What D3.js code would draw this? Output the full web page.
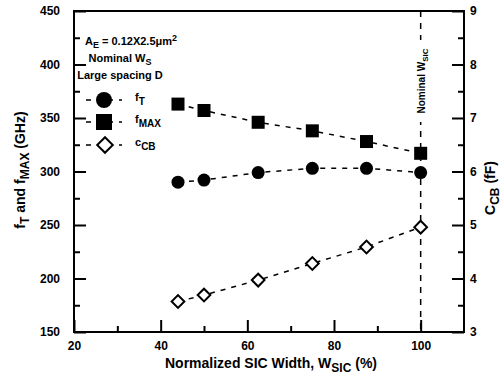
<!DOCTYPE html>
<html>
<head>
<meta charset="utf-8">
<script src="https://cdn.jsdelivr.net/npm/d3@7"></script>
<style>
body { margin: 0; background: #fff; }
text { font-family: "Liberation Sans", Arial, sans-serif; font-weight: bold; fill: #000; }
</style>
</head>
<body>
<svg id="chart" width="504" height="378"></svg>
<script>
// data
const widths = [44, 50, 62.5, 75, 87.5, 100];
const fT = [290, 292, 299, 303, 303, 299];
const fMAX = [363, 357, 346, 338, 328, 317];
const cCB = [3.57, 3.69, 3.97, 4.28, 4.59, 4.96];
const xTicks = [20, 40, 60, 80, 100];
const yTicks = [150, 200, 250, 300, 350, 400, 450];
const y2Ticks = [3, 4, 5, 6, 7, 8, 9];
const nominal = 100;

const margin = {left: 74, right: 40, top: 11, bottom: 46};
const W = 504, H = 378;
const svg = d3.select('#chart');

const x = d3.scaleLinear().domain([20, 110]).range([margin.left, W - margin.right]);
const y = d3.scaleLinear().domain([150, 450]).range([H - margin.bottom, margin.top]);
const y2 = d3.scaleLinear().domain([3, 9]).range([H - margin.bottom, margin.top]);

const x0 = x.range()[0], x1 = x.range()[1];
const yb = y.range()[0], yt = y.range()[1];

// axes: major ticks inward + minor
function styleAxis(g) {
	g.select('.domain').remove();
	g.selectAll('.tick line').attr('stroke', '#000').attr('stroke-width', 2);
	g.selectAll('.tick text').style('font-size', '12px');
}

// bottom
svg.append('g')
	.attr('transform', `translate(0,${yb})`)
	.call(d3.axisBottom(x).tickValues(d3.range(30, 110, 20)).tickSize(-6).tickFormat(''))
	.call(styleAxis);
svg.append('g')
	.attr('transform', `translate(0,${yb})`)
	.call(d3.axisBottom(x).tickValues(xTicks).tickSize(-12).tickPadding(9).tickFormat(d3.format('d')))
	.call(styleAxis);

// left
svg.append('g')
	.attr('transform', `translate(${x0},0)`)
	.call(d3.axisLeft(y).tickValues(d3.range(175, 450, 50)).tickSize(-6).tickFormat(''))
	.call(styleAxis);
svg.append('g')
	.attr('transform', `translate(${x0},0)`)
	.call(d3.axisLeft(y).tickValues(yTicks).tickSize(-12).tickPadding(14).tickFormat(d3.format('d')))
	.call(styleAxis);

// right
svg.append('g')
	.attr('transform', `translate(${x1},0)`)
	.call(d3.axisRight(y2).tickValues(d3.range(3.5, 9, 1)).tickSize(-6).tickFormat(''))
	.call(styleAxis);
svg.append('g')
	.attr('transform', `translate(${x1},0)`)
	.call(d3.axisRight(y2).tickValues(y2Ticks).tickSize(-12).tickPadding(6).tickFormat(d3.format('d')))
	.call(styleAxis);

// frame
svg.append('rect')
	.attr('x', x0).attr('y', yt)
	.attr('width', x1 - x0).attr('height', yb - yt)
	.attr('fill', 'none').attr('stroke', '#000').attr('stroke-width', 2);

// nominal line
svg.append('line')
	.attr('x1', x(nominal)).attr('x2', x(nominal))
	.attr('y1', yt).attr('y2', yb)
	.attr('stroke', '#000').attr('stroke-width', 1.5)
	.attr('stroke-dasharray', '6,6');
svg.append('rect')
	.attr('x', x(nominal) - 6).attr('y', 40)
	.attr('width', 12).attr('height', 82)
	.attr('fill', '#fff');
const nom = svg.append('text')
	.attr('transform', `translate(${x(nominal) + 4},81) rotate(-90)`)
	.attr('text-anchor', 'middle')
	.style('font-size', '10px');
nom.append('tspan').text('Nominal W');
nom.append('tspan').attr('dy', 3).style('font-size', '8px').text('SIC');

// series
const line = (vals, sc) => d3.line()
	.x((d, i) => x(widths[i]))
	.y(d => sc(d))(vals);

function dashed(path) {
	return svg.append('path').attr('d', path)
		.attr('fill', 'none').attr('stroke', '#000')
		.attr('stroke-width', 1.5).attr('stroke-dasharray', '5,6');
}
dashed(line(fMAX, y));
dashed(line(fT, y));
dashed(line(cCB, y2));

svg.selectAll('.sq').data(fMAX).enter().append('rect')
	.attr('x', (d, i) => x(widths[i]) - 6.5)
	.attr('y', d => y(d) - 6.5)
	.attr('width', 13).attr('height', 13).attr('fill', '#000');

svg.selectAll('.ci').data(fT).enter().append('circle')
	.attr('cx', (d, i) => x(widths[i]))
	.attr('cy', d => y(d))
	.attr('r', 6.5).attr('fill', '#000');

svg.selectAll('.di').data(cCB).enter().append('path')
	.attr('transform', (d, i) => `translate(${x(widths[i])},${y2(d)}) rotate(45)`)
	.attr('d', 'M-4.5,-4.5H4.5V4.5H-4.5Z')
	.attr('fill', '#fff').attr('stroke', '#000').attr('stroke-width', 2);

// annotations
const ann = svg.append('g');
const a1 = ann.append('text').attr('x', 85).attr('y', 45).style('font-size', '11px');
a1.append('tspan').text('A');
a1.append('tspan').attr('dy', 3).style('font-size', '9px').text('E');
a1.append('tspan').attr('dy', -3).text(' = 0.12X2.5\u03bcm');
a1.append('tspan').attr('dy', -4).style('font-size', '9px').text('2');
const a2 = ann.append('text').attr('x', 120).attr('y', 62).attr('text-anchor', 'middle').style('font-size', '11px');
a2.append('tspan').text('Nominal W');
a2.append('tspan').attr('dy', 3).style('font-size', '9px').text('S');
ann.append('text').attr('x', 120).attr('y', 79).attr('text-anchor', 'middle').style('font-size', '11px').text('Large spacing D');

// legend
const legY = [100, 122, 145];
legY.forEach(ly => {
	svg.append('line').attr('x1', 86).attr('x2', 122).attr('y1', ly).attr('y2', ly)
		.attr('stroke', '#000').attr('stroke-width', 1.5).attr('stroke-dasharray', '5,6');
});
svg.append('circle').attr('cx', 104).attr('cy', legY[0]).attr('r', 8).attr('fill', '#000');
svg.append('rect').attr('x', 96).attr('y', legY[1] - 8).attr('width', 16).attr('height', 16).attr('fill', '#000');
svg.append('path').attr('transform', `translate(105,${legY[2]}) rotate(45)`)
	.attr('d', 'M-5.5,-5.5H5.5V5.5H-5.5Z')
	.attr('fill', '#fff').attr('stroke', '#000').attr('stroke-width', 2);

const legLabels = [['f', 'T'], ['f', 'MAX'], ['c', 'CB']];
legLabels.forEach((l, i) => {
	const t = svg.append('text').attr('x', 135).attr('y', legY[i] + 1).style('font-size', '11px');
	t.append('tspan').text(l[0]);
	t.append('tspan').attr('dy', 4).style('font-size', '10px').text(l[1]);
});

// axis titles
const xt = svg.append('text').attr('x', 271).attr('y', 368).attr('text-anchor', 'middle').style('font-size', '14px');
xt.append('tspan').text('Normalized SIC Width, W');
xt.append('tspan').attr('dy', 4).style('font-size', '12px').text('SIC');
xt.append('tspan').attr('dy', -4).text(' (%)');

const yt1 = svg.append('text').attr('transform', 'translate(25,170) rotate(-90)').attr('text-anchor', 'middle').style('font-size', '14px');
yt1.append('tspan').text('f');
yt1.append('tspan').attr('dy', 4).style('font-size', '12px').text('T');
yt1.append('tspan').attr('dy', -4).text(' and f');
yt1.append('tspan').attr('dy', 4).style('font-size', '12px').text('MAX');
yt1.append('tspan').attr('dy', -4).text(' (GHz)');

const yt2 = svg.append('text').attr('transform', 'translate(495,188) rotate(-90)').attr('text-anchor', 'middle').style('font-size', '14px');
yt2.append('tspan').text('C');
yt2.append('tspan').attr('dy', 4).style('font-size', '12px').text('CB');
yt2.append('tspan').attr('dy', -4).text(' (fF)');
</script>
</body>
</html>
